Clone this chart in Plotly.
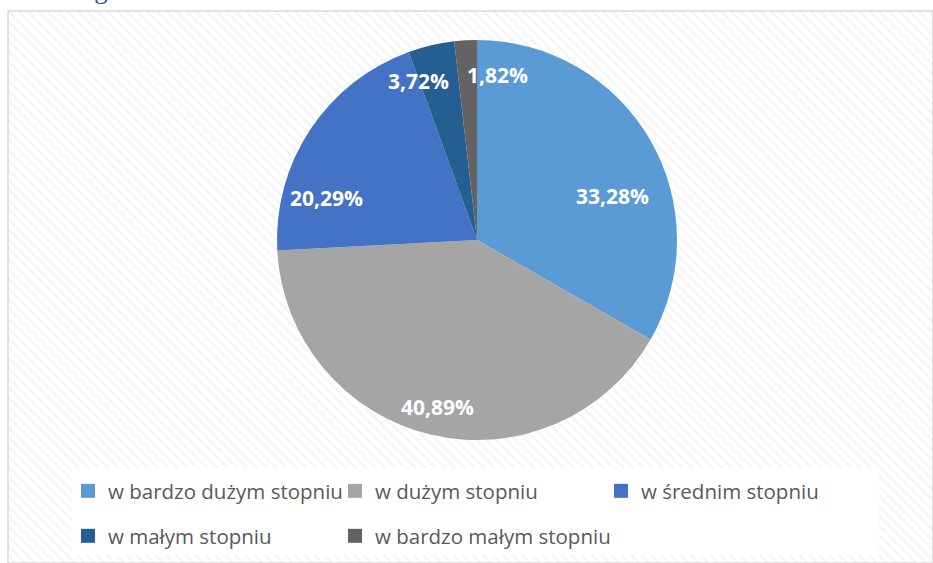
import math
import plotly.graph_objects as go

# ---- data ----
categories = ["w bardzo dużym stopniu", "w dużym stopniu", "w średnim stopniu",
              "w małym stopniu", "w bardzo małym stopniu"]
values = [33.28, 40.89, 20.29, 3.72, 1.82]
value_labels = ["33,28%", "40,89%", "20,29%", "3,72%", "1,82%"]
colors = ["#5B9BD5", "#A5A5A5", "#4472C4", "#255E91", "#636363"]

# ---- layout geometry (absolute window pixels; body margin removed by post_script) ----
W, H = 933, 563
ML, MT = 8, 11
X0, Y0 = ML, MT
PW, PH = W - X0, H - Y0
CX, CY, R = 477, 240, 200

# label placement tweaks (angle offset in degrees, radius fraction)
label_angle_offset = [12.0, 0.0, -18.0, -7.0, 10.5]
label_radius_frac = [0.715, 0.86, 0.78, 0.85, 0.83]

# legend grid slots (left edge px, row centre px)
legend_slot_x = [68, 335, 601, 68, 335]
legend_slot_y = [491, 491, 491, 536, 536]


def px_to_paper(px, py):
    return (px - X0) / PW, (H - py) / PH


fig = go.Figure()

# hatched background
fig.add_trace(go.Scatter(
    x=[0, 1, 1, 0, 0], y=[0, 0, 1, 1, 0], mode="lines", fill="toself",
    line=dict(width=0), fillcolor="white",
    fillpattern=dict(shape="\\", fgcolor="#EAEAEA", bgcolor="white", size=7, solidity=0.35),
    hoverinfo="skip", showlegend=False,
))

dx0, dy0 = px_to_paper(CX - R, CY + R)
dx1, dy1 = px_to_paper(CX + R, CY - R)

fig.add_trace(go.Pie(
    labels=categories, values=values, sort=False, direction="clockwise", rotation=0,
    marker=dict(colors=colors, line=dict(width=0)),
    textinfo="none", hoverinfo="label+percent", showlegend=False,
    domain=dict(x=[dx0, dx1], y=[dy0, dy1]),
))

legend_style = dict(
    xanchor="left", yanchor="middle", bgcolor="rgba(0,0,0,0)",
    font=dict(family="Open Sans", size=20.5, color="#595959"),
    itemsizing="trace", orientation="h",
)
legend_layouts = {}
for i, (cat, col) in enumerate(zip(categories, colors)):
    key = "legend" if i == 0 else f"legend{i + 1}"
    fig.add_trace(go.Scatter(
        x=[None], y=[None], mode="markers", name=cat, legend=key,
        marker=dict(symbol="square", size=14, color=col), hoverinfo="skip",
    ))
    lx, ly = px_to_paper(legend_slot_x[i], legend_slot_y[i])
    legend_layouts[key] = dict(x=lx, y=ly, **legend_style)

# data labels computed from cumulative angles
total = sum(values)
cum = 0.0
annotations = []
for i, v in enumerate(values):
    mid = (cum + v / 2) / total * 360.0 + label_angle_offset[i]
    cum += v
    r = R * label_radius_frac[i]
    px = CX + r * math.sin(math.radians(mid))
    py = CY - r * math.cos(math.radians(mid))
    xp, yp = px_to_paper(px, py)
    annotations.append(dict(
        x=xp, y=yp, xref="paper", yref="paper", text=value_labels[i], showarrow=False,
        font=dict(family="Open Sans", size=21, color="white", weight="bold"),
        xanchor="center", yanchor="middle",
    ))

# cut-off heading text at the very top
annotations.append(dict(
    x=(15 - X0) / PW, y=1 + 5 / PH, xref="paper", yref="paper", text="na kategorie",
    showarrow=False, xanchor="left", yanchor="bottom",
    font=dict(family="Liberation Serif", size=27, color="#2F5496"),
))

bx0, by0 = px_to_paper(72, 555)
bx1, by1 = px_to_paper(879, 468)

fig.update_layout(
    width=W, height=H,
    margin=dict(l=ML, r=0, t=MT, b=0),
    paper_bgcolor="white", plot_bgcolor="white",
    xaxis=dict(range=[0, 1], visible=False, fixedrange=True),
    yaxis=dict(range=[0, 1], visible=False, fixedrange=True),
    showlegend=True,
    annotations=annotations,
    shapes=[
        dict(type="rect", xref="paper", yref="paper", x0=bx0, y0=by0, x1=bx1, y1=by1,
             fillcolor="white", line=dict(width=0), layer="above"),
        dict(type="rect", xref="paper", yref="paper", x0=0, y0=0, x1=1, y1=1,
             line=dict(color="#D9D9D9", width=1.5), layer="above"),
    ],
    **legend_layouts,
)

fig.write_html("out.html", config={"displayModeBar": False},
               post_script="document.body.style.margin='0px';document.body.style.overflow='hidden';")
